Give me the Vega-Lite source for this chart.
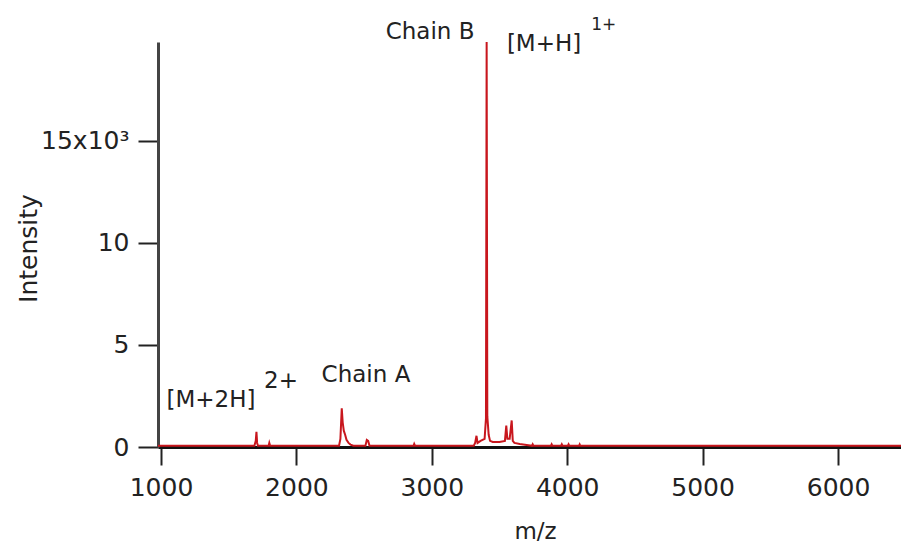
{
  "$schema": "https://vega.github.io/schema/vega-lite/v6.json",
  "autosize": "none",
  "width": 743,
  "height": 405,
  "padding": {"left": 158, "top": 42, "right": 0, "bottom": 97},
  "background": "white",
  "config": {"view": {"stroke": null}, "font": "DejaVu Sans"},
  "datasets": {
    "spectrum": [
      {"mz": 978, "intensity": 60}, {"mz": 1690, "intensity": 60}, {"mz": 1700, "intensity": 300}, {"mz": 1705, "intensity": 740}, {"mz": 1710, "intensity": 200}, {"mz": 1716, "intensity": 60},
      {"mz": 1795, "intensity": 60}, {"mz": 1800, "intensity": 200}, {"mz": 1806, "intensity": 60},
      {"mz": 2315, "intensity": 60}, {"mz": 2325, "intensity": 400}, {"mz": 2335, "intensity": 1900}, {"mz": 2342, "intensity": 1200}, {"mz": 2350, "intensity": 800}, {"mz": 2360, "intensity": 600}, {"mz": 2370, "intensity": 350}, {"mz": 2385, "intensity": 200}, {"mz": 2400, "intensity": 120}, {"mz": 2420, "intensity": 60},
      {"mz": 2510, "intensity": 60}, {"mz": 2520, "intensity": 350}, {"mz": 2530, "intensity": 300}, {"mz": 2540, "intensity": 60},
      {"mz": 2865, "intensity": 60}, {"mz": 2870, "intensity": 150}, {"mz": 2876, "intensity": 60},
      {"mz": 3310, "intensity": 60}, {"mz": 3320, "intensity": 200}, {"mz": 3330, "intensity": 550}, {"mz": 3338, "intensity": 200}, {"mz": 3360, "intensity": 300}, {"mz": 3390, "intensity": 400}, {"mz": 3400, "intensity": 1400}, {"mz": 3405, "intensity": 19850}, {"mz": 3410, "intensity": 1500}, {"mz": 3420, "intensity": 600}, {"mz": 3430, "intensity": 300}, {"mz": 3450, "intensity": 250}, {"mz": 3500, "intensity": 250}, {"mz": 3540, "intensity": 300}, {"mz": 3550, "intensity": 1050}, {"mz": 3558, "intensity": 400}, {"mz": 3575, "intensity": 400}, {"mz": 3590, "intensity": 1300}, {"mz": 3598, "intensity": 300}, {"mz": 3610, "intensity": 200}, {"mz": 3650, "intensity": 150}, {"mz": 3700, "intensity": 100},
      {"mz": 3740, "intensity": 60}, {"mz": 3745, "intensity": 130}, {"mz": 3750, "intensity": 60},
      {"mz": 3880, "intensity": 60}, {"mz": 3885, "intensity": 130}, {"mz": 3890, "intensity": 60},
      {"mz": 3955, "intensity": 60}, {"mz": 3960, "intensity": 130}, {"mz": 3965, "intensity": 60},
      {"mz": 4005, "intensity": 60}, {"mz": 4010, "intensity": 130}, {"mz": 4015, "intensity": 60},
      {"mz": 4088, "intensity": 60}, {"mz": 4092, "intensity": 120}, {"mz": 4096, "intensity": 60},
      {"mz": 6465, "intensity": 60}
    ],
    "labels": [
      {"mz": 2987, "intensity": 20343, "label": "Chain B"},
      {"mz": 3829, "intensity": 19755, "label": "[M+H]"},
      {"mz": 2514, "intensity": 3529, "label": "Chain A"},
      {"mz": 1369, "intensity": 2304, "label": "[M+2H]"},
      {"mz": 1886, "intensity": 3235, "label": "2+"}
    ],
    "sups": [
      {"mz": 4270, "intensity": 20686, "label": "1+"}
    ]
  },
  "layer": [
    {
      "data": {"name": "spectrum"},
      "mark": {"type": "line", "color": "#c8161d", "strokeWidth": 2},
      "encoding": {
        "x": {
          "field": "mz", "type": "quantitative",
          "scale": {"domain": [978, 6465], "nice": false, "zero": false},
          "axis": {
            "title": "m/z", "values": [1000, 2000, 3000, 4000, 5000, 6000], "format": "d",
            "grid": false, "domainColor": "#111", "domainWidth": 3,
            "tickColor": "#222", "tickWidth": 2, "tickSize": 18,
            "labelFontSize": 25, "labelColor": "#222", "labelPadding": 10, "labelFont": "DejaVu Sans",
            "titleFontSize": 23, "titleFontWeight": "normal", "titleColor": "#222", "titleFont": "DejaVu Sans",
            "titleX": 377, "titleY": 91, "titleBaseline": "alphabetic"
          }
        },
        "y": {
          "field": "intensity", "type": "quantitative",
          "scale": {"domain": [0, 19850], "nice": false},
          "axis": {
            "title": "Intensity", "values": [0, 5000, 10000, 15000],
            "labelExpr": "datum.value === 15000 ? '15x10³' : format(datum.value / 1000, 'd')",
            "grid": false, "domainColor": "#444", "domainWidth": 3,
            "tickColor": "#222", "tickWidth": 2, "tickSize": 20,
            "labelFontSize": 25, "labelColor": "#222", "labelPadding": 9, "labelFont": "DejaVu Sans",
            "titleFontSize": 25, "titleFontWeight": "normal", "titleColor": "#222", "titleFont": "DejaVu Sans",
            "titleX": -130, "titleY": 206, "titleBaseline": "middle", "titleAlign": "center", "titleAngle": -90
          }
        }
      }
    },
    {
      "data": {"name": "labels"},
      "mark": {"type": "text", "fontSize": 23, "color": "#222", "align": "center", "baseline": "middle", "font": "DejaVu Sans"},
      "encoding": {
        "x": {"field": "mz", "type": "quantitative"},
        "y": {"field": "intensity", "type": "quantitative"},
        "text": {"field": "label"}
      }
    },
    {
      "data": {"name": "sups"},
      "mark": {"type": "text", "fontSize": 17, "color": "#222", "align": "center", "baseline": "middle", "font": "DejaVu Sans"},
      "encoding": {
        "x": {"field": "mz", "type": "quantitative"},
        "y": {"field": "intensity", "type": "quantitative"},
        "text": {"field": "label"}
      }
    }
  ]
}
